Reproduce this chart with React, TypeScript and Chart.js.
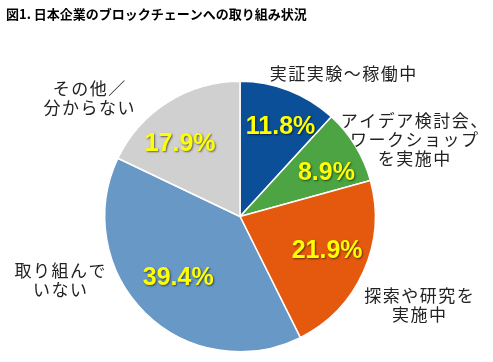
import React, { useEffect, useRef } from "react";
import { Chart, registerables } from "chart.js";

Chart.register(...registerables);

const title = "図1. 日本企業のブロックチェーンへの取り組み状況";
const categories: string[][] = [
  ["実証実験～稼働中"],
  ["アイデア検討会、", "ワークショップ", "を実施中"],
  ["探索や研究を", "実施中"],
  ["取り組んで", "いない"],
  ["その他／", "分からない"],
];
const values: number[] = [11.8, 8.9, 21.9, 39.4, 17.9];
const colors: string[] = ["#0B4F98", "#4CA443", "#E5590F", "#6898C6", "#D0D0D0"];

// label anchor positions (centre of text block, first-line y)
const labelAnchors: { x: number; y: number }[] = [
  { x: 343, y: 74 },
  { x: 414, y: 121 },
  { x: 419, y: 296 },
  { x: 60, y: 271 },
  { x: 89, y: 89 },
];
const pctRadius = [0.73, 0.72, 0.69, 0.64, 0.7];
const pctAngleShift = [3, 4, -3, 1, -7];

const labelPlugin = {
  id: "pieLabels",
  afterDatasetsDraw(chart: any) {
    const ctx = chart.ctx as CanvasRenderingContext2D;
    const meta = chart.getDatasetMeta(0);
    ctx.save();
    ctx.font = "bold 25px 'Liberation Sans', Arial, sans-serif";
    ctx.textAlign = "center";
    ctx.textBaseline = "middle";
    meta.data.forEach((arc: any, i: number) => {
      const p = arc.getProps(["x", "y", "startAngle", "endAngle", "outerRadius"], true);
      const mid = (p.startAngle + p.endAngle) / 2 + (pctAngleShift[i] * Math.PI) / 180;
      const r = p.outerRadius * pctRadius[i];
      const x = p.x + Math.cos(mid) * r;
      const y = p.y + Math.sin(mid) * r;
      ctx.shadowColor = "rgba(0,0,0,0.55)";
      ctx.shadowOffsetX = 1;
      ctx.shadowOffsetY = 1;
      ctx.shadowBlur = 2;
      ctx.fillStyle = "#FFFF00";
      ctx.fillText(values[i].toFixed(1) + "%", x, y + 1);
    });
    ctx.restore();
  },
  afterDraw(chart: any) {
    const ctx = chart.ctx as CanvasRenderingContext2D;
    ctx.save();
    ctx.fillStyle = "#000";
    ctx.font = "bold 13px 'Noto Sans CJK JP', sans-serif";
    ctx.textAlign = "left";
    ctx.textBaseline = "middle";
    ctx.fillText(title, 6, 14);
    ctx.font = "17px 'Noto Sans CJK JP', sans-serif";
    (ctx as any).letterSpacing = "1.5px";
    ctx.fillStyle = "#222";
    ctx.textAlign = "center";
    categories.forEach((lines, i) => {
      const a = labelAnchors[i];
      lines.forEach((line, j) => {
        ctx.fillText(line, a.x + 0.75, a.y + j * 19);
      });
    });
    ctx.restore();
  },
};

export default function App() {
  const ref = useRef<HTMLCanvasElement>(null);
  useEffect(() => {
    if (!ref.current) return;
    const chart = new Chart(ref.current, {
      type: "pie",
      data: {
        labels: categories.map((c) => c.join("")),
        datasets: [
          {
            data: values,
            backgroundColor: colors,
            borderColor: "#ffffff",
            borderWidth: 1.5,
          },
        ],
      },
      options: {
        responsive: false,
        animation: false,
        layout: { padding: { left: 104, right: 117, top: 80, bottom: 9 } },
        plugins: { legend: { display: false }, tooltip: { enabled: false }, title: { display: false } },
      },
      plugins: [labelPlugin],
    });
    return () => chart.destroy();
  }, []);
  return (
    <div style={{ position: "absolute", left: 0, top: 0, width: 493, height: 362, background: "#fff" }}>
      <canvas ref={ref} width={493} height={362} />
    </div>
  );
}
